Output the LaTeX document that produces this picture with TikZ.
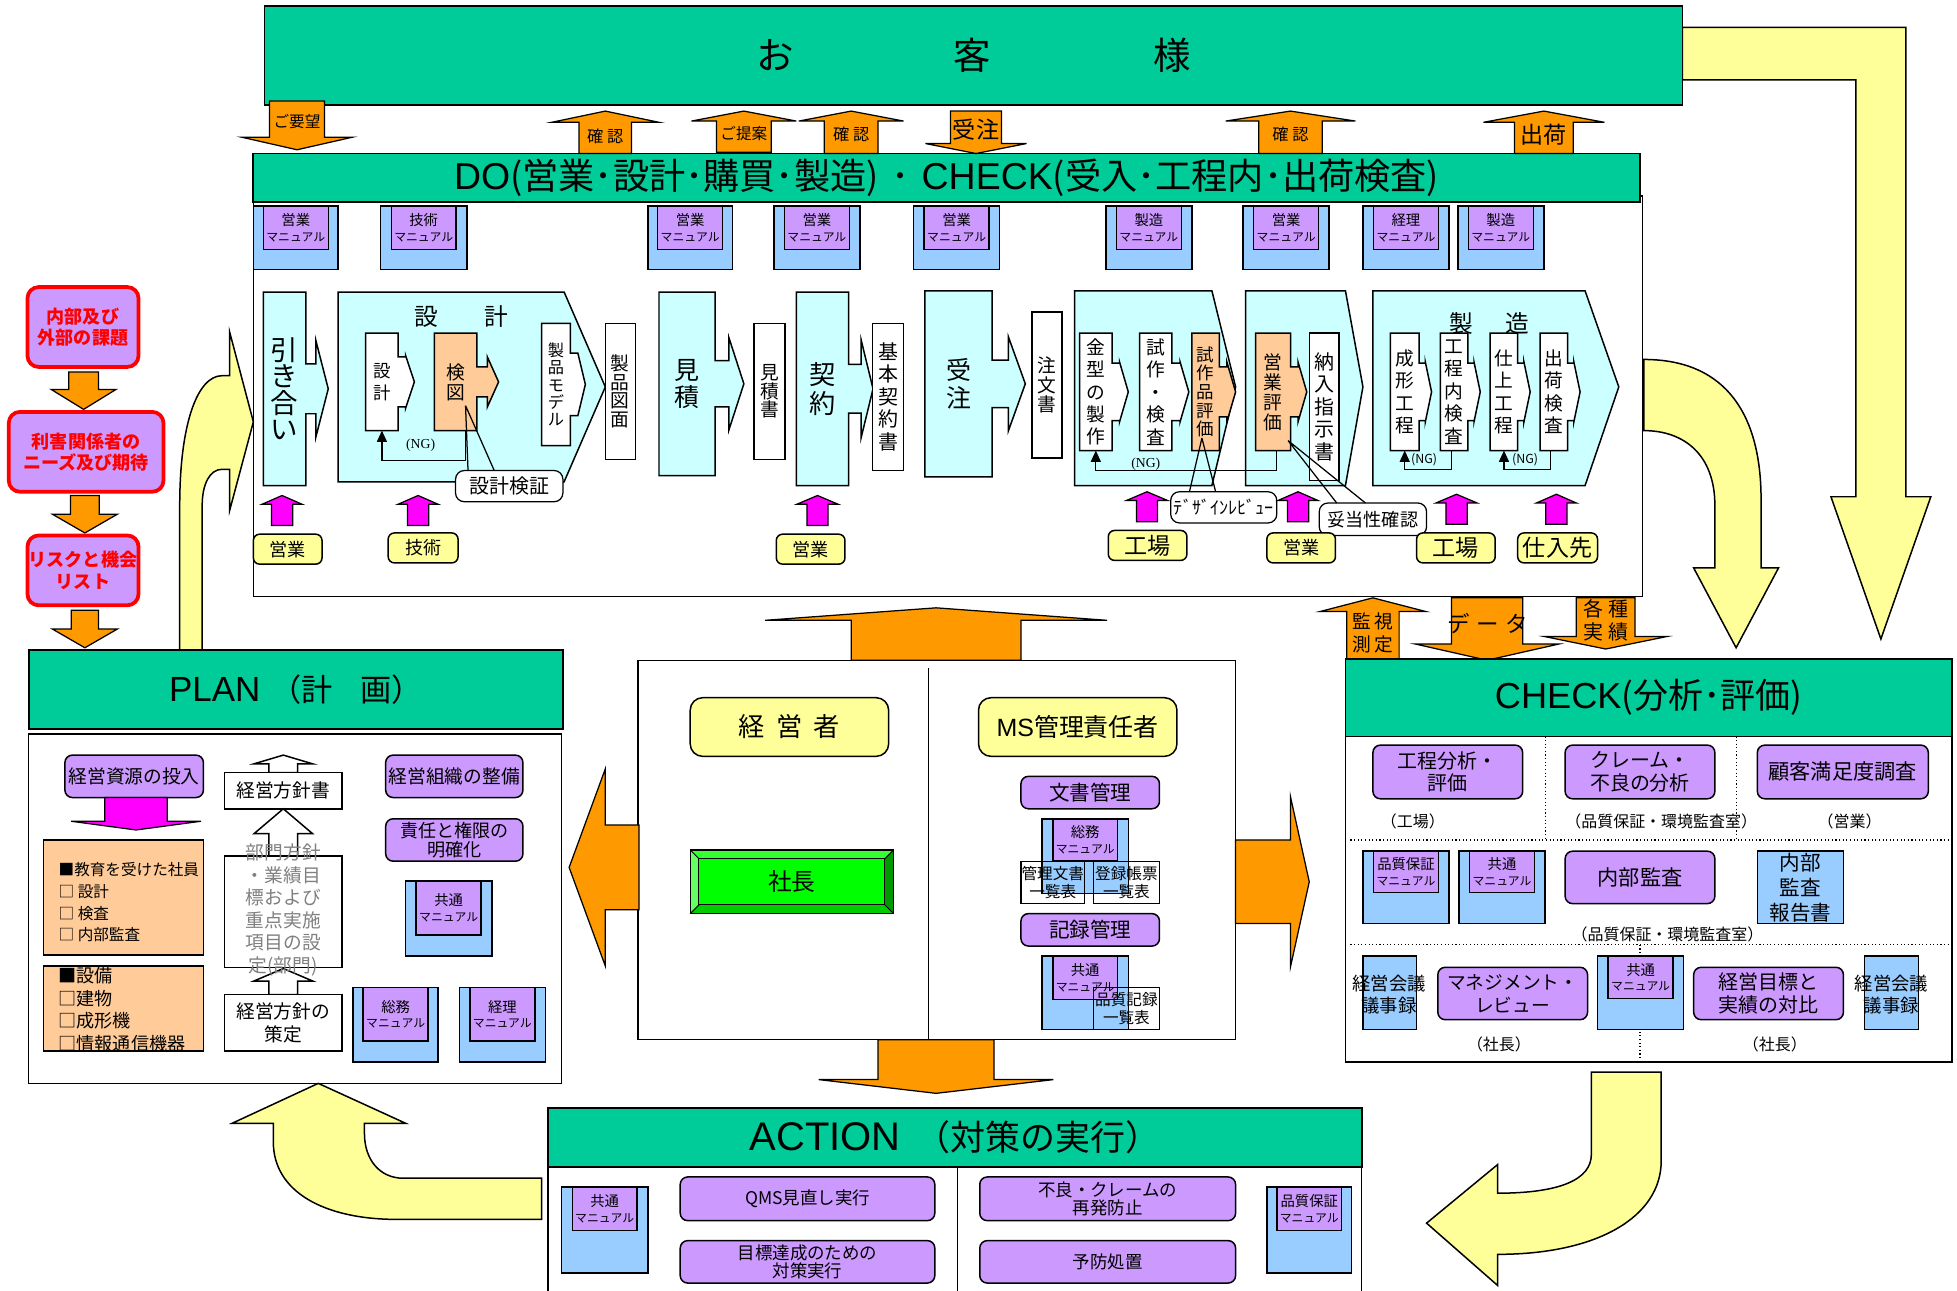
\documentclass[tikz,border=0pt]{standalone}
\usepackage{fontspec}
\setmainfont{Noto Sans CJK JP}
\newfontfamily\latinsf{Liberation Sans}
\newfontfamily\ngserif{Liberation Serif}
\usetikzlibrary{arrows.meta, positioning, calc}
\definecolor{HeadGreen}{HTML}{00CC99}
\definecolor{PaleYellow}{HTML}{FFFF99}
\definecolor{ArrowOrange}{HTML}{FF9900}
\definecolor{ProcCyan}{HTML}{CCFFFF}
\definecolor{SoftOrange}{HTML}{FFCC99}
\definecolor{Lilac}{HTML}{CC99FF}
\definecolor{ManBlue}{HTML}{99CCFF}
\definecolor{PinkArrow}{HTML}{FF00FF}
\definecolor{CeoGreen}{HTML}{00FF00}
\definecolor{CeoLight}{HTML}{33FF33}
\definecolor{CeoPale}{HTML}{66FF66}
\definecolor{CeoDark}{HTML}{00CC00}
\definecolor{CeoDeep}{HTML}{009900}
\definecolor{MemoGray}{HTML}{808080}
\pgfdeclarelayer{bg}
\pgfdeclarelayer{mid}
\pgfsetlayers{bg,mid,main}
\newcommand{\fsz}[2]{\fontsize{#1}{#2}\selectfont\lineskiplimit=-50pt\relax}
\newcommand{\mantxt}[1]{{\fsz{11.5}{13}#1}\\{\fsz{9.5}{11}マニュアル}}
\newcommand{\manual}[7]{%
  \node[manouter, minimum width=#4pt, minimum height=#5pt, anchor=north] (#1) at (#2,#3) {};
  \node[maninner, minimum width=52pt, minimum height=#6pt, anchor=north] (#1-in) at (#1.north) {\mantxt{#7}};}
\newcommand{\vblock}[7]{%
  \draw[#1] ({#2-#6},#5) -- ({#2-#6},#4) -- ({#2-#7},#4) -- (#2,#3)
    -- ({#2+#7},#4) -- ({#2+#6},#4) -- ({#2+#6},#5) -- cycle;}
\newcommand{\hblock}[7]{%
  \draw[#1] (#5,{#2-#6}) -- (#4,{#2-#6}) -- (#4,{#2-#7}) -- (#3,#2)
    -- (#4,{#2+#7}) -- (#4,{#2+#6}) -- (#5,{#2+#6}) -- cycle;}
\newcommand{\tagarrow}[6]{%
  \begin{pgfonlayer}{mid}
  \draw[#1] (#2.north west) -- (#2.north east) -- ([yshift=#3pt]#2.east)
    -- ([xshift=#5pt, yshift=#3pt]#2.east) -- ([xshift=#5pt, yshift=#4pt]#2.east)
    -- ([xshift=#5pt+#6pt]#2.east) -- ([xshift=#5pt, yshift=-#4pt]#2.east)
    -- ([xshift=#5pt, yshift=-#3pt]#2.east) -- ([yshift=-#3pt]#2.east)
    -- (#2.south east) -- (#2.south west) -- cycle;
  \end{pgfonlayer}}
\tikzset{
  procnode/.style={inner sep=0pt, outer sep=0pt, align=center},
  headbox/.style={procnode, draw=black, line width=1.4pt, fill=HeadGreen},
  framebox/.style={procnode, draw=black, line width=1.2pt, fill=white},
  procarrow/.style={draw=black, line width=1.2pt},
  whitebox/.style={procnode, draw=black, line width=1.2pt, fill=white},
  listbox/.style={procnode, draw=black, line width=1pt, font=\fsz{12.5}{14}},
  lilacbox/.style={procnode, draw=black, line width=1.2pt, fill=Lilac, rounded corners=6pt},
  yellowtag/.style={procnode, draw=black, line width=1.2pt, fill=PaleYellow, rounded corners=5pt},
  redbox/.style={procnode, draw=red, line width=3pt, fill=Lilac, rounded corners=9pt, text=red, font=\bfseries\fsz{14.5}{17}},
  manouter/.style={procnode, draw=black, line width=1.2pt, fill=ManBlue},
  maninner/.style={procnode, draw=black, line width=1.2pt, fill=Lilac, font=\fsz{11.5}{12.5}},
  bluebox/.style={procnode, draw=black, line width=1.2pt, fill=ManBlue},
  callout/.style={procnode, draw=black, line width=1pt, fill=white, rounded corners=7pt},
  pointer/.style={draw=black, line width=1pt},
  groupshape/.style={draw=black, line width=1.2pt, fill=ProcCyan},
  orangearrow/.style={draw=black, line width=1pt, fill=ArrowOrange},
  pinkarrow/.style={draw=black, line width=1pt, fill=PinkArrow},
  outlinearrow/.style={draw=black, line width=1.2pt, fill=white},
  bigyellow/.style={draw=black, line width=1.2pt, fill=PaleYellow},
  ngline/.style={draw=black, line width=1pt, -{Triangle[length=9pt, width=8pt]}},
  dotline/.style={draw=black, line width=0.9pt, dotted},
  thinline/.style={draw=black, line width=1.2pt},
  sublabel/.style={procnode, font=\fsz{12.8}{14}}
}
\begin{document}
\begin{tikzpicture}[x=1pt, y=-1pt]
\useasboundingbox (0,0) rectangle (1568,1034);

\draw[bigyellow] (1348,22) -- (1527,22) -- (1527,398) -- (1547,398) -- (1507,512) -- (1467,398) -- (1487,398) -- (1487,64) -- (1348,64) -- cycle;
\node[headbox, minimum width=1136pt, minimum height=79pt, font=\fsz{30}{32}] (cust) at (780,44.5) {お\hspace{128pt}客\hspace{130pt}様};

\begin{pgfonlayer}{bg}
\node[framebox, minimum width=1113pt, minimum height=321pt] (doBody) at (759.5,317.5) {};
\draw[groupshape] (271,234) -- (452,234) -- (485,310) -- (452,386) -- (271,386) -- cycle;
\draw[groupshape] (861,233) -- (971,233) -- (990,310) -- (971,389) -- (861,389) -- cycle;
\draw[groupshape] (998,233) -- (1078,233) -- (1092,310) -- (1078,389) -- (998,389) -- cycle;
\draw[groupshape] (1100,233) -- (1270,233) -- (1297,310) -- (1270,389) -- (1100,389) -- cycle;
\end{pgfonlayer}
\node[headbox, minimum width=1111pt, minimum height=39pt, font=\fsz{29}{30}] (doHead) at (758.5,142.5) {{\latinsf\fsz{30}{30}DO}(営業･設計･購買･製造)\hspace{10pt}･\hspace{10pt}{\latinsf\fsz{30}{30}CHECK}(受入･工程内･出荷検査)};

\vblock{orangearrow}{238}{120}{110}{81}{22}{44}
\node[procnode, font=\fsz{12.5}{14}] (yobo) at (238,97) {ご要望};
\vblock{orangearrow}{485}{89}{98}{123}{21}{43}
\node[procnode, font=\fsz{13}{14}] (kakuninA) at (485,109) {確\hspace{3pt}認};
\vblock{orangearrow}{596}{89}{97}{122}{22}{42}
\node[procnode, font=\fsz{12.5}{14}] (teian) at (596,107) {ご提案};
\vblock{orangearrow}{682}{89}{97}{123}{21.5}{42}
\node[procnode, font=\fsz{13}{14}] (kakuninB) at (682,108) {確\hspace{3pt}認};
\vblock{orangearrow}{782}{123}{115}{89}{20.5}{40.5}
\node[procnode, font=\fsz{18.5}{20}] (juchuIn) at (782,104) {受注};
\vblock{orangearrow}{1034}{89}{97}{123}{25.5}{52}
\node[procnode, font=\fsz{13}{14}] (kakuninC) at (1034,108) {確\hspace{3pt}認};
\vblock{orangearrow}{1237}{89}{98}{123}{23.5}{48.5}
\node[procnode, font=\fsz{18.5}{20}] (shukkaOut) at (1237,108) {出荷};

\manual{manA}{237}{165}{68}{51}{35}{営業}
\manual{manB}{339.5}{165}{69}{51}{35}{技術}
\manual{manC}{553}{165}{68}{51}{35}{営業}
\manual{manD}{654.5}{165}{69}{51}{35}{営業}
\manual{manE}{766.5}{165}{69}{51}{35}{営業}
\manual{manF}{920.5}{165}{69}{51}{35}{製造}
\manual{manG}{1030.5}{165}{69}{51}{35}{営業}
\manual{manH}{1126.5}{165}{69}{51}{35}{経理}
\manual{manI}{1202.5}{165}{69}{51}{35}{製造}

\node[procnode, minimum width=34pt, minimum height=155pt, font=\fsz{22}{21}] (hikiai) at (228,311.5) {引\\き\\合\\い};
\tagarrow{procarrow, fill=ProcCyan}{hikiai}{20}{39}{8}{10}
\node[procnode, font=\fsz{19}{20}] (sekkeiTtl) at (370,254) {設\hspace{37pt}計};
\node[procnode, minimum width=26pt, minimum height=78pt, font=\fsz{14}{18}] (sekkeiIn) at (306,306) {設\\計};
\tagarrow{procarrow, fill=white}{sekkeiIn}{20}{21}{6}{7}
\node[procnode, minimum width=34pt, minimum height=78pt, font=\fsz{15}{16}] (kenzu) at (365,306) {検\\図};
\tagarrow{procarrow, fill=SoftOrange}{kenzu}{12}{20}{8.5}{9}
\node[procnode, minimum width=23pt, minimum height=98pt, font=\fsz{13}{14}] (model) at (445.5,308) {製\\品\\モ\\デ\\ル};
\tagarrow{procarrow, fill=white}{model}{25}{25}{6}{6}
\node[whitebox, minimum width=24pt, minimum height=109pt, font=\fsz{15}{15}] (zumen) at (497,313.5) {製\\品\\図\\面};
\node[procnode, minimum width=45pt, minimum height=147pt, font=\fsz{20}{22}] (mitsumori) at (550.5,307.5) {見\\積};
\tagarrow{procarrow, fill=ProcCyan}{mitsumori}{18.5}{37}{11}{12}
\node[whitebox, minimum width=25pt, minimum height=109pt, font=\fsz{15}{15}] (mitsumorisho) at (616.5,313.5) {見\\積\\書};
\node[procnode, minimum width=42pt, minimum height=155pt, font=\fsz{21}{23}] (keiyaku) at (659,311.5) {契\\約};
\tagarrow{procarrow, fill=ProcCyan}{keiyaku}{19.5}{39}{10}{9.5}
\node[whitebox, minimum width=25pt, minimum height=118pt, font=\fsz{16}{18}] (kihon) at (711.5,318) {基\\本\\契\\約\\書};
\node[procnode, minimum width=54pt, minimum height=149pt, font=\fsz{20}{22}] (juchu) at (768,307.5) {受\\注};
\tagarrow{procarrow, fill=ProcCyan}{juchu}{19}{37.5}{13}{13.5}
\node[whitebox, minimum width=24pt, minimum height=117pt, font=\fsz{15}{15.5}] (chumon) at (839,308.5) {注\\文\\書};
\node[procnode, minimum width=26pt, minimum height=94pt, font=\fsz{15}{18}] (kanagata) at (878,314) {金\\型\\の\\製\\作};
\tagarrow{procarrow, fill=white}{kanagata}{23}{24}{6}{7}
\node[procnode, minimum width=26pt, minimum height=94pt, font=\fsz{15}{18}] (shisaku) at (926,314) {試\\作\\・\\検\\査};
\tagarrow{procarrow, fill=white}{shisaku}{23}{24}{6.5}{7}
\node[procnode, minimum width=22pt, minimum height=94pt, font=\fsz{14}{15}] (hyoka) at (966,314) {試\\作\\品\\評\\価};
\tagarrow{procarrow, fill=SoftOrange}{hyoka}{20}{24}{6}{7}
\node[procnode, minimum width=28pt, minimum height=94pt, font=\fsz{15}{16}] (eigyo) at (1020,314) {営\\業\\評\\価};
\tagarrow{procarrow, fill=SoftOrange}{eigyo}{20}{24}{6}{7}
\node[whitebox, minimum width=24pt, minimum height=118pt, font=\fsz{16}{18}] (nonyu) at (1061,326) {納\\入\\指\\示\\書};
\node[procnode, font=\fsz{19}{20}] (seizoTtl) at (1193.5,259) {製\hspace{26pt}造};
\node[procnode, minimum width=23pt, minimum height=94pt, font=\fsz{15}{18}] (seikei) at (1125.5,314) {成\\形\\工\\程};
\tagarrow{procarrow, fill=white}{seikei}{23}{24}{5}{5}
\node[procnode, minimum width=22pt, minimum height=94pt, font=\fsz{15}{18}] (kotei) at (1165,314) {工\\程\\内\\検\\査};
\tagarrow{procarrow, fill=white}{kotei}{23}{24}{5}{5}
\node[procnode, minimum width=22pt, minimum height=94pt, font=\fsz{15}{18}] (shiage) at (1205,314) {仕\\上\\工\\程};
\tagarrow{procarrow, fill=white}{shiage}{23}{24}{5}{5}
\node[procnode, minimum width=22pt, minimum height=94pt, font=\fsz{15}{18}] (shukka) at (1245,314) {出\\荷\\検\\査};
\tagarrow{procarrow, fill=white}{shukka}{23}{24}{5}{5}

\draw[ngline] ([xshift=8pt]kenzu.south) -- ++(0,24) -| (sekkeiIn.south);
\node[procnode, font=\ngserif\fsz{11}{12}] (ngA) at (337,357) {(NG)};
\draw[ngline] ([xshift=3pt]eigyo.south) -- ++(0,16) -| (kanagata.south);
\node[procnode, font=\ngserif\fsz{11}{12}] (ngB) at (918,372) {(NG)};
\draw[ngline] ([xshift=-2pt]kotei.south) -- ++(0,15) -| (seikei.south);
\node[procnode, font=\fsz{10}{11}] (ngC) at (1141,368) {(NG)};
\draw[ngline] ([xshift=-3pt]shukka.south) -- ++(0,15) -| (shiage.south);
\node[procnode, font=\fsz{10}{11}] (ngD) at (1222,368) {(NG)};

\node[callout, minimum width=86pt, minimum height=25pt, font=\fsz{16}{17}] (kensho) at (408,389.5) {設計検証};
\draw[pointer] ([xshift=8pt,yshift=-19pt]kenzu.center) -- ([xshift=-33pt]kensho.north) ([xshift=8pt,yshift=-19pt]kenzu.center) -- ([xshift=-12pt]kensho.north);
\node[callout, minimum width=85pt, minimum height=25pt, font=\fsz{14.5}{16}] (review) at (980.5,406.5) {ﾃﾞｻﾞｲﾝﾚﾋﾞｭｰ};
\draw[pointer] ([xshift=-3pt,yshift=-37pt]hyoka.center) -- ([xshift=-27.5pt]review.north) ([xshift=-3pt,yshift=-37pt]hyoka.center) -- ([xshift=-6.5pt]review.north);
\node[callout, minimum width=86pt, minimum height=26pt, font=\fsz{14.5}{16}] (dato) at (1100,416) {妥当性確認};
\draw[pointer] ([xshift=12pt,yshift=-39pt]eigyo.center) -- ([xshift=-29pt]dato.north) ([xshift=12pt,yshift=-39pt]eigyo.center) -- ([xshift=-6pt]dato.north);

\vblock{pinkarrow}{226}{397}{404}{421}{8.5}{16}
\vblock{pinkarrow}{335}{397}{404}{421}{8.5}{16}
\vblock{pinkarrow}{655}{397}{404}{421}{8.5}{16.5}
\vblock{pinkarrow}{919}{394}{401}{418}{8.5}{16.5}
\vblock{pinkarrow}{1040}{394}{401}{418}{8.5}{16}
\vblock{pinkarrow}{1167}{396}{403}{420}{8.5}{16.5}
\vblock{pinkarrow}{1247}{396}{403}{420}{8.5}{16}
\node[yellowtag, minimum width=55pt, minimum height=24pt, font=\fsz{14.5}{16}] (tagA) at (230.5,440) {営業};
\node[yellowtag, minimum width=56pt, minimum height=24pt, font=\fsz{14.5}{16}] (tagB) at (339,439) {技術};
\node[yellowtag, minimum width=55pt, minimum height=24pt, font=\fsz{14.5}{16}] (tagC) at (649.5,440) {営業};
\node[yellowtag, minimum width=63pt, minimum height=24pt, font=\fsz{18.5}{20}] (tagD) at (919.5,437) {工場};
\node[yellowtag, minimum width=55pt, minimum height=24pt, font=\fsz{14.5}{16}] (tagE) at (1042.5,439) {営業};
\node[yellowtag, minimum width=63pt, minimum height=24pt, font=\fsz{18.5}{20}] (tagF) at (1166.5,439) {工場};
\node[yellowtag, minimum width=64pt, minimum height=24pt, font=\fsz{18.5}{20}] (tagG) at (1248,439) {仕入先};

\draw[bigyellow] (1317,288) .. controls (1385,288) and (1411,335) .. (1411,400) -- (1411,455) -- (1425,455) -- (1391,519) -- (1357,455) -- (1374,455) -- (1374,405) .. controls (1374,365) and (1350,345) .. (1317,345) -- cycle;

\vblock{orangearrow}{1100}{479}{490}{529}{21}{42.5}
\node[procnode, font=\fsz{15}{18}] (kanshi) at (1100,507) {監\hspace{3pt}視\\測\hspace{3pt}定};
\vblock{orangearrow}{1191.5}{529}{516}{479}{28.5}{57.5}
\node[procnode, font=\fsz{18}{20}] (dataTxt) at (1192,500) {デ\hspace{5pt}ー\hspace{5pt}タ};
\vblock{orangearrow}{1286.5}{520}{510}{479}{23.5}{49}
\node[procnode, font=\fsz{16}{18.5}] (jisseki) at (1286.5,497) {各\hspace{4pt}種\\実\hspace{4pt}績};

\vblock{orangearrow}{750}{487}{497}{529}{68}{137}
\node[framebox, minimum width=479pt, minimum height=304pt] (mgmtBox) at (750.5,681) {};
\draw[thinline] ([xshift=-6.5pt,yshift=-6pt]mgmtBox.north) -- ([xshift=-6.5pt]mgmtBox.south);
\vblock{orangearrow}{750}{876}{865}{833}{46.5}{94}
\hblock{orangearrow}{695}{456}{485}{512}{34}{79}
\hblock{orangearrow}{706.5}{1049}{1034}{990}{33.5}{68}
\node[yellowtag, minimum width=159pt, minimum height=47pt, rounded corners=10pt, font=\fsz{21}{23}] (keieisha) at (632.5,582.5) {経\hspace{9pt}営\hspace{9pt}者};
\node[yellowtag, minimum width=159pt, minimum height=47pt, rounded corners=10pt, font=\fsz{20}{22}] (msman) at (863.5,582.5) {{\latinsf MS}管理責任者};
\node[procnode, draw=black, line width=1pt, fill=CeoGreen, minimum width=163pt, minimum height=51pt] (shacho) at (634.5,706.5) {};
\node[procnode, fill=CeoGreen, minimum width=149pt, minimum height=37pt, font=\fsz{19}{21}] (shachoIn) at (shacho.center) {社長};
\fill[CeoLight] (shacho.north west) -- (shacho.north east) -- (shachoIn.north east) -- (shachoIn.north west) -- cycle;
\fill[CeoPale] (shacho.north west) -- (shachoIn.north west) -- (shachoIn.south west) -- (shacho.south west) -- cycle;
\fill[CeoDark] (shacho.south west) -- (shacho.south east) -- (shachoIn.south east) -- (shachoIn.south west) -- cycle;
\fill[CeoDeep] (shacho.north east) -- (shacho.south east) -- (shachoIn.south east) -- (shachoIn.north east) -- cycle;
\draw[line width=0.8pt] (shacho.north west) -- (shachoIn.north west) (shacho.north east) -- (shachoIn.north east) (shacho.south west) -- (shachoIn.south west) (shacho.south east) -- (shachoIn.south east);
\draw[line width=1pt] (shacho.north west) rectangle (shacho.south east);
\draw[line width=0.8pt] (shachoIn.north west) rectangle (shachoIn.south east);
\node[lilacbox, minimum width=111pt, minimum height=26pt, font=\fsz{16.5}{18}] (bunsho) at (873.5,635) {文書管理};
\manual{somuC}{869.5}{656}{69}{60}{34}{総務}
\node[listbox, minimum width=51pt, minimum height=34pt] (kanriList) at (843.5,707) {管理文書\\一覧表};
\node[listbox, minimum width=53pt, minimum height=34pt] (tourokuList) at (902.5,707) {登録帳票\\一覧表};
\node[lilacbox, minimum width=111pt, minimum height=26pt, font=\fsz{16.5}{18}] (kiroku) at (873.5,745) {記録管理};
\manual{kyotsuC}{869.5}{766}{69}{59}{35}{共通}
\node[listbox, minimum width=53pt, minimum height=34pt] (hinshitsuList) at (902.5,808) {品質記録\\一覧表};

\node[redbox, minimum width=89pt, minimum height=64pt] (kadai) at (66.5,262) {内部及び\\外部の課題};
\vblock{orangearrow}{67}{328}{312}{298}{12}{26}
\node[redbox, minimum width=124pt, minimum height=64pt] (needs) at (69,362) {利害関係者の\\ニーズ及び期待};
\vblock{orangearrow}{68}{427}{412}{397}{11.5}{26}
\node[redbox, minimum width=89pt, minimum height=56pt] (risk) at (66.5,457) {リスクと機会\\リスト};
\vblock{orangearrow}{68}{519}{504}{489}{11}{26}

\draw[bigyellow] (144,521) -- (144,405) .. controls (144,340) and (158,301) .. (178,301) -- (184,301) -- (184,266) -- (203,338) -- (184,409) -- (184,376) -- (178,376) .. controls (168,376) and (162,388) .. (162,405) -- (162,521) -- cycle;
\node[headbox, minimum width=428pt, minimum height=63pt, font=\fsz{25}{26}] (planHead) at (237,552.5) {{\latinsf\fsz{28}{30}PLAN}\hspace{8pt}（計\hspace{22pt}画）};
\node[framebox, minimum width=427pt, minimum height=280pt] (planBody) at (236.5,728) {};
\node[lilacbox, minimum width=111pt, minimum height=34pt, font=\fsz{15}{17}] (shigen) at (107.5,622) {経営資源の投入};
\vblock{pinkarrow}{109}{665}{658}{639}{25}{52}
\node[procnode, draw=black, line width=1.2pt, fill=SoftOrange, minimum width=128pt, minimum height=92pt] (eduBox) at (99,719) {};
\node[procnode, anchor=west, align=left, font=\fsz{12.5}{17.4}] (eduTxt) at (47,723) {■教育を受けた社員\\□ 設計\\□ 検査\\□ 内部監査};
\node[procnode, draw=black, line width=1.2pt, fill=SoftOrange, minimum width=128pt, minimum height=68pt] (equipBox) at (99,808) {};
\node[procnode, anchor=west, align=left, font=\fsz{14.5}{18}] (equipTxt) at (47,809) {■設備\\□建物\\□成形機\\□情報通信機器};
\vblock{outlinearrow}{227}{605}{612}{619}{11.5}{23.5}
\node[whitebox, minimum width=94pt, minimum height=29pt, font=\fsz{15}{17}] (hoshinsho) at (227,633.5) {経営方針書};
\vblock{outlinearrow}{227}{648}{668}{686}{11.5}{23.5}
\vblock{outlinearrow}{227}{776}{786}{797}{11.5}{23.5}
\node[whitebox, minimum width=94pt, minimum height=89pt] (bumonBox) at (227,730.5) {};
\node[procnode, text=MemoGray, font=\fsz{15}{18}] (bumonTxt) at (227,729) {部門方針\\・業績目\\標および\\重点実施\\項目の設\\定(部門)};
\node[whitebox, minimum width=94pt, minimum height=45pt, font=\fsz{15}{19}] (sakutei) at (227,819.5) {経営方針の\\策定};
\node[lilacbox, minimum width=110pt, minimum height=34pt, font=\fsz{15}{17}] (soshiki) at (364,622) {経営組織の整備};
\node[lilacbox, minimum width=110pt, minimum height=34pt, font=\fsz{14.5}{15.5}] (sekinin) at (364,673) {責任と権限の\\明確化};
\manual{kyotsuP}{359.5}{706}{69}{60}{43}{共通}
\manual{somuP}{317}{791}{68}{60}{43}{総務}
\manual{keiriP}{402.5}{791}{69}{60}{43}{経理}
\draw[bigyellow] (434,944) -- (323,944) .. controls (305,944) and (292,930) .. (292,908) -- (292,900) -- (325,900) -- (255,868) -- (186,900) -- (219,900) -- (219,915) .. controls (219,955) and (260,977) .. (318,977) -- (434,977) -- cycle;

\node[headbox, minimum width=486pt, minimum height=62pt, font=\fsz{28}{30}] (checkHead) at (1321,559) {{\latinsf\fsz{29}{30}CHECK}(分析･評価)};
\node[framebox, minimum width=486pt, minimum height=261pt] (checkBody) at (1321,720.5) {};
\draw[dotline] (1238,590) -- (1238,672);
\draw[dotline] (1391,590) -- (1391,672);
\draw[dotline] (1082,673) -- (1563,673);
\draw[dotline] (1082,757) -- (1563,757);
\draw[dotline] (1314,757) -- (1314,851);
\node[lilacbox, minimum width=120pt, minimum height=43pt, font=\fsz{16}{18}] (koteiBunseki) at (1160,618.5) {工程分析・\\評価};
\node[lilacbox, minimum width=120pt, minimum height=43pt, font=\fsz{16}{18}] (claim) at (1314,618.5) {クレーム・\\不良の分析};
\node[lilacbox, minimum width=137pt, minimum height=43pt, font=\fsz{17}{19}] (kokyaku) at (1476.5,618.5) {顧客満足度調査};
\node[sublabel] (lblKojo) at (1132,658) {（工場）};
\node[sublabel] (lblHinsho) at (1331,658) {（品質保証・環境監査室）};
\node[sublabel] (lblEigyo) at (1482,658) {（営業）};
\manual{hinshoM}{1126.5}{682}{69}{58}{33}{品質保証}
\manual{kyotsuM}{1203.5}{682}{69}{58}{33}{共通}
\node[lilacbox, minimum width=120pt, minimum height=42pt, font=\fsz{17}{19}] (naibu) at (1314,703) {内部監査};
\node[bluebox, minimum width=69pt, minimum height=58pt, font=\fsz{16.5}{20}] (naibuRep) at (1442.5,711) {内部\\監査\\報告書};
\node[sublabel] (lblHinshoB) at (1336,749) {（品質保証・環境監査室）};
\node[bluebox, minimum width=43pt, minimum height=59pt] (gijiL) at (1113.5,795.5) {};
\node[procnode, font=\fsz{14.7}{17.5}] (gijiLTxt) at (1113,797) {経営会議\\議事録};
\node[lilacbox, minimum width=120pt, minimum height=42pt, font=\fsz{15}{18}] (mgmtReview) at (1212,796) {マネジメント・\\レビュー};
\manual{kyotsuMB}{1314.5}{766}{69}{59}{34}{共通}
\node[lilacbox, minimum width=120pt, minimum height=42pt, font=\fsz{16}{18}] (mokuhyo) at (1417,796) {経営目標と\\実績の対比};
\node[bluebox, minimum width=43pt, minimum height=59pt] (gijiR) at (1515.5,795.5) {};
\node[procnode, font=\fsz{14.7}{17.5}] (gijiRTxt) at (1515.5,797) {経営会議\\議事録};
\node[sublabel] (lblShachoA) at (1201,837) {（社長）};
\node[sublabel] (lblShachoB) at (1422,837) {（社長）};

\draw[bigyellow] (1275,859) -- (1331,859) -- (1331,930) .. controls (1331,975) and (1280,1005) .. (1200,1005) -- (1200,1030) -- (1143,980) -- (1200,933) -- (1200,956) .. controls (1250,956) and (1275,945) .. (1275,925) -- cycle;
\node[headbox, minimum width=652pt, minimum height=47pt, font=\fsz{28}{30}] (actHead) at (765,911.5) {{\latinsf\fsz{32}{32}ACTION}\hspace{12pt}（対策の実行）};
\node[framebox, minimum width=652pt, minimum height=110pt, anchor=north] (actBody) at (765,935) {};
\draw[thinline] ([xshift=2pt]actBody.north) -- ([xshift=2pt]actBody.south);
\manual{kyotsuA}{484.5}{951}{69}{69}{35}{共通}
\node[lilacbox, minimum width=204pt, minimum height=35pt, font=\fsz{14}{15}] (qms) at (647,960.5) {QMS見直し実行};
\node[lilacbox, minimum width=204pt, minimum height=34pt, font=\fsz{14}{15}] (taisaku) at (647,1011) {目標達成のための\\対策実行};
\node[lilacbox, minimum width=205pt, minimum height=35pt, font=\fsz{14}{15}] (furyo) at (887.5,960.5) {不良・クレームの\\再発防止};
\node[lilacbox, minimum width=205pt, minimum height=34pt, font=\fsz{14}{15}] (yobo) at (887.5,1011) {予防処置};
\manual{hinshoA}{1049}{951}{68}{69}{35}{品質保証}
\end{tikzpicture}
\end{document}
